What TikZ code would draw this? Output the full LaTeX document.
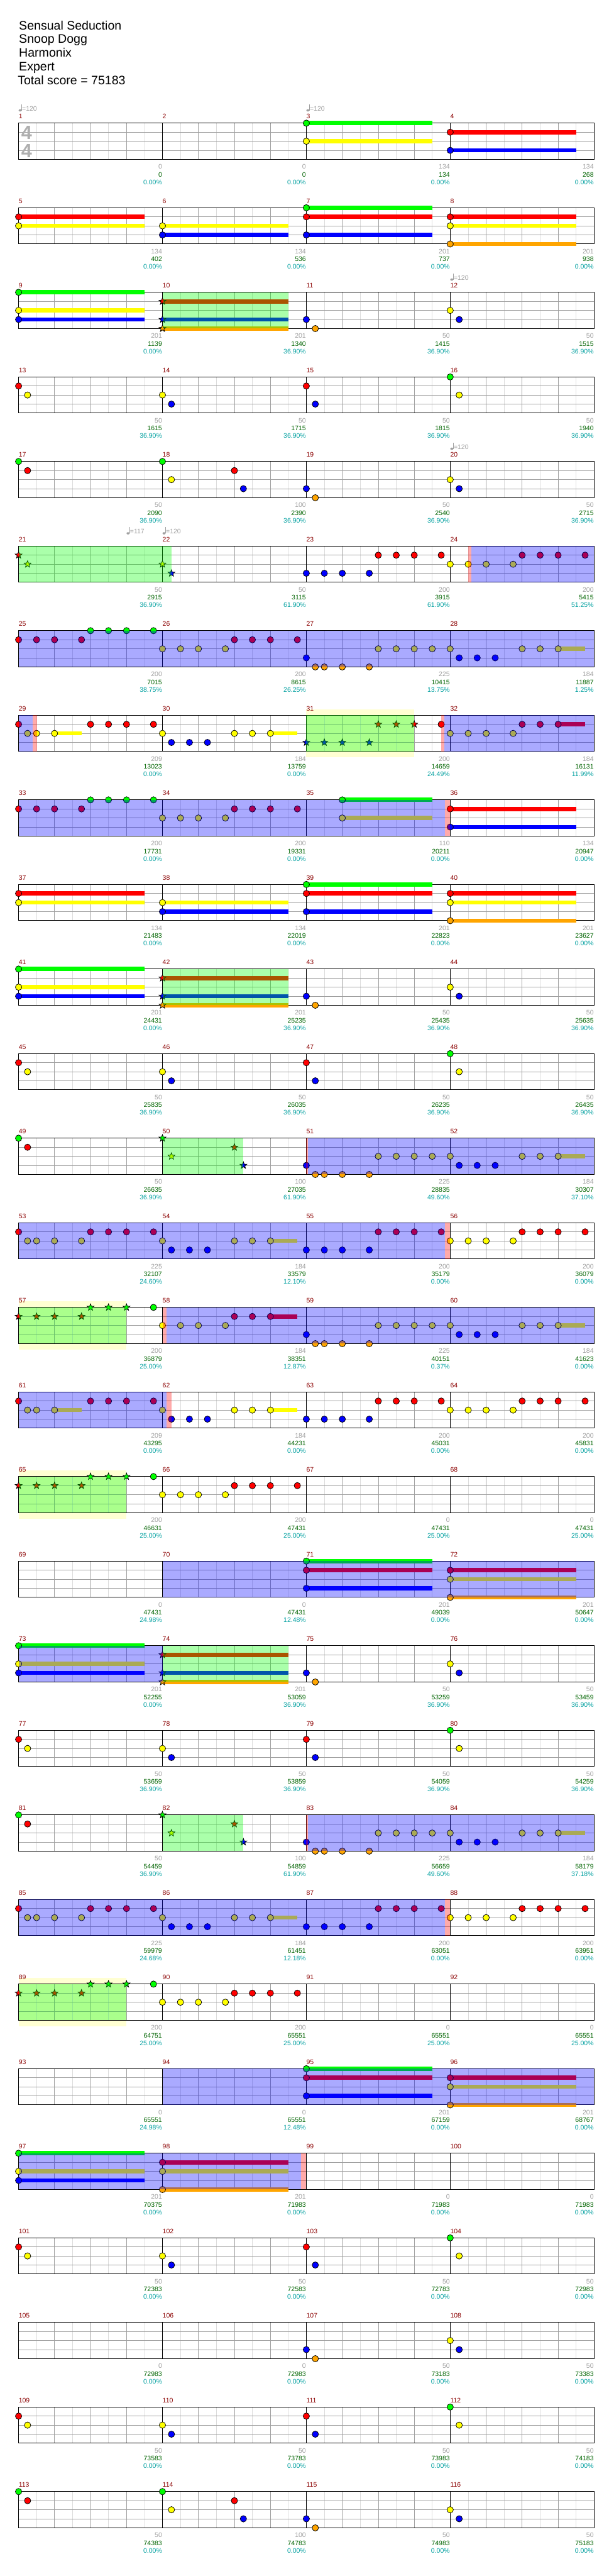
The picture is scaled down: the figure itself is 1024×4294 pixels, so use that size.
\documentclass[tikz,border=0pt]{standalone}
\usepackage{fontspec}
\setmainfont{Liberation Sans}
\usetikzlibrary{calc}

\definecolor{gem0}{RGB}{0,255,0}
\definecolor{gem1}{RGB}{255,0,0}
\definecolor{gem2}{RGB}{255,255,0}
\definecolor{gem3}{RGB}{0,0,255}
\definecolor{gem4}{RGB}{255,165,0}
\definecolor{barred}{RGB}{139,0,0}
\definecolor{ptsgray}{RGB}{160,160,160}
\definecolor{ptsgreen}{RGB}{0,100,0}
\definecolor{pctcyan}{RGB}{0,160,160}
\definecolor{gridlight}{RGB}{220,220,220}
\definecolor{gridgray}{RGB}{160,160,160}
\definecolor{unisonyellow}{RGB}{255,255,210}
\definecolor{tsgray}{RGB}{175,175,175}

\newcommand{\smallfont}{\fontsize{11}{13}\selectfont}

\begin{document}
\begin{tikzpicture}[x=1pt, y=1pt,
  gemline/.style={draw=black, line width=0.8pt},
  gridl/.style={draw=gridlight, line width=0.8pt},
  gridg/.style={draw=gridgray, line width=0.8pt},
  barline/.style={draw=black, line width=1pt},
  songtext/.style={anchor=base west, inner sep=0pt, font=\fontsize{20.5}{23}\selectfont},
  mnum/.style={anchor=base west, inner sep=0pt, text=barred, font=\smallfont},
  ptsg/.style={anchor=base east, inner sep=0pt, text=ptsgray, font=\smallfont},
  ptst/.style={anchor=base east, inner sep=0pt, text=ptsgreen, font=\smallfont},
  pctc/.style={anchor=base east, inner sep=0pt, text=pctcyan, font=\smallfont},
  tempotext/.style={anchor=base west, inner sep=0pt, text=ptsgray, font=\smallfont},
  timesig/.style={anchor=base, inner sep=0pt, text=tsgray, font=\fontsize{32}{32}\selectfont\bfseries},
  spgreen/.style={fill=gem0, fill opacity=0.333},
  odblue/.style={fill=gem3, fill opacity=0.333},
  actpink/.style={fill=gem1, fill opacity=0.333}]

%---------------------------------------
% Layout functions
%---------------------------------------
\pgfmathdeclarefunction{MX}{2}{\pgfmathparse{31+240*mod(#1-1,4)+60*#2}}            % x of measure, beat
\pgfmathdeclarefunction{MY}{2}{\pgfmathparse{-(205.3+141*floor((#1-1)/4)+15.1*#2)}} % y of measure, lane

% notes
\newcommand{\gem}[3]{\draw[gemline, fill=gem#3] ({MX(#1,#2)},{MY(#1,#3)}) circle (5.3);}
\newcommand{\sus}[4]{\fill[gem#3] ({MX(#1,#2)},{MY(#1,#3)+3.5}) rectangle ({MX(#1,#2+#4)},{MY(#1,#3)-3.5});
  \gem{#1}{#2}{#3}}
\newcommand{\stargem}[3]{\draw[gemline, fill=gem#3, shift={({MX(#1,#2)},{MY(#1,#3)})}]
  (90:6) -- (126:2.5) -- (162:6) -- (198:2.5) -- (234:6) -- (270:2.5) -- (306:6) -- (342:2.5) -- (18:6) -- (54:2.5) -- cycle;}
\newcommand{\starsus}[4]{\fill[gem#3] ({MX(#1,#2)},{MY(#1,#3)+3.5}) rectangle ({MX(#1,#2+#4)},{MY(#1,#3)-3.5});
  \stargem{#1}{#2}{#3}}
% zones
\newcommand{\spzone}[3]{\fill[spgreen] ({MX(#1,#2)},{MY(#1,0)}) rectangle ({MX(#1,#3)},{MY(#1,4)});}
\newcommand{\odzone}[3]{\fill[odblue] ({MX(#1,#2)},{MY(#1,0)}) rectangle ({MX(#1,#3)},{MY(#1,4)});}
\newcommand{\actbar}[3]{\fill[actpink] ({MX(#1,#2)},{MY(#1,0)}) rectangle ({MX(#1,#3)},{MY(#1,4)});}
\newcommand{\unizone}[3]{\fill[unisonyellow] ({MX(#1,#2)},{MY(#1,0)+10}) rectangle ({MX(#1,#3)},{MY(#1,4)-10});}
% tempo mark
\newcommand{\tempo}[3]{%
  \fill[ptsgray] ({MX(#1,#2)+2.6},{MY(#1,0)+21.3}) ellipse (2.6 and 1.9);
  \draw[ptsgray, line width=0.8pt] ({MX(#1,#2)+4.9},{MY(#1,0)+21.3}) -- ++(0,10.5);
  \node[tempotext] (bpm-#1) at ({MX(#1,#2)+5.7},{MY(#1,0)+20.3}) {=#3};}

\useasboundingbox (0,0) rectangle (1024,-4294);
\fill[white] (0,0) rectangle (1024,-4294);

%====================================================
% Header
%====================================================
\node[songtext] (song)   at (31.5,-49.3)  {Sensual Seduction};
\node[songtext] (artist) at (31.5,-72.3)  {Snoop Dogg};
\node[songtext] (chart)  at (31.5,-95.3)  {Harmonix};
\node[songtext] (diff)   at (31.5,-118.3) {Expert};
\node[songtext] (total)  at (29.5,-141.3) {Total score = 75183};

% unison boxes (behind the staff)
\unizone{31}{0}{3}
\unizone{57}{0}{3}
\unizone{65}{0}{3}
\unizone{89}{0}{3}

%====================================================
% Staves
%====================================================
\foreach \r in {0,...,28}{
  \pgfmathsetmacro\top{-(205.3+141*\r)}
  \pgfmathsetmacro\bot{\top-60.4}
  \foreach \i in {1,3,...,31} \draw[gridl] ({31+30*\i},\top) -- ({31+30*\i},\bot);
  \foreach \i in {1,2,3,5,6,7,9,10,11,13,14,15} \draw[gridg] ({31+60*\i},\top) -- ({31+60*\i},\bot);
  \foreach \k in {1,2,3} \draw[gridg] (31,{\top-15.1*\k}) -- (991,{\top-15.1*\k});
  \foreach \i in {1,2,3} \draw[barline] ({31+240*\i},\top) -- ({31+240*\i},\bot);
  \draw[barline] (31,\top) rectangle (991,\bot);
}

% time signature
\node[timesig] (ts-up) at (44.5,-232.3) {4};
\node[timesig] (ts-dn) at (44.5,-262.7) {4};

% measure numbers
\foreach \m in {1,...,116}
  \node[mnum] (num-\m) at ({MX(\m,0)},{MY(\m,0)+7.6}) {\m};

% tempo marks
\tempo{1}{0}{120}
\tempo{3}{0}{120}
\tempo{12}{0}{120}
\tempo{20}{0}{120}
\tempo{21}{3}{117}
\tempo{22}{0}{120}

%====================================================
% Notes
%====================================================
% held chords
\foreach \mm/\bb/\ll/\len in {3/0/0/3.5, 3/0/2/3.5, 4/0/1/3.5, 4/0/3/3.5, 5/0/1/3.5, 5/0/2/3.5,
    6/0/2/3.5, 6/0/3/3.5, 7/0/0/3.5, 7/0/1/3.5, 7/0/3/3.5, 8/0/1/3.5, 8/0/2/3.5, 8/0/4/3.5,
    9/0/0/3.5, 9/0/2/3.5, 9/0/3/3.5,
    28/3/2/0.75, 29/1/2/0.75, 30/3/2/0.75, 32/3/1/0.75,
    35/1/0/2.5, 35/1/2/2.5, 36/0/1/3.5, 36/0/3/3.5, 37/0/1/3.5, 37/0/2/3.5, 38/0/2/3.5, 38/0/3/3.5,
    39/0/0/3.5, 39/0/1/3.5, 39/0/3/3.5, 40/0/1/3.5, 40/0/2/3.5, 40/0/4/3.5,
    41/0/0/3.5, 41/0/2/3.5, 41/0/3/3.5, 52/3/2/0.75, 54/3/2/0.75,
    58/3/1/0.75, 60/3/2/0.75, 61/1/2/0.75, 62/3/2/0.75,
    71/0/0/3.5, 71/0/1/3.5, 71/0/3/3.5, 72/0/1/3.5, 72/0/2/3.5, 72/0/4/3.5,
    73/0/0/3.5, 73/0/2/3.5, 73/0/3/3.5, 84/3/2/0.75, 86/3/2/0.75,
    95/0/0/3.5, 95/0/1/3.5, 95/0/3/3.5, 96/0/1/3.5, 96/0/2/3.5, 96/0/4/3.5,
    97/0/0/3.5, 97/0/2/3.5, 97/0/3/3.5, 98/0/1/3.5, 98/0/2/3.5, 98/0/4/3.5}
  {\sus{\mm}{\bb}{\ll}{\len}}

% star chords
\foreach \mm/\bb/\ll/\len in {10/0/1/3.5, 10/0/3/3.5, 10/0/4/3.5, 42/0/1/3.5, 42/0/3/3.5, 42/0/4/3.5,
    74/0/1/3.5, 74/0/3/3.5, 74/0/4/3.5}
  {\starsus{\mm}{\bb}{\ll}{\len}}

% star notes
\foreach \mm/\bb/\ll in {21/0/1, 21/0.25/2, 22/0/2, 22/0.25/3,
    31/0/3, 31/0.5/3, 31/1/3, 31/1.75/3, 31/2/1, 31/2.5/1, 31/3/1,
    50/0/0, 50/0.25/2, 50/2/1, 50/2.25/3,
    57/0/1, 57/0.5/1, 57/1/1, 57/1.75/1, 57/2/0, 57/2.5/0, 57/3/0,
    65/0/1, 65/0.5/1, 65/1/1, 65/1.75/1, 65/2/0, 65/2.5/0, 65/3/0,
    82/0/0, 82/0.25/2, 82/2/1, 82/2.25/3,
    89/0/1, 89/0.5/1, 89/1/1, 89/1.75/1, 89/2/0, 89/2.5/0, 89/3/0}
  {\stargem{\mm}{\bb}{\ll}}

% single notes
\foreach \mm/\bb/\ll in {11/0/3, 11/0.25/4, 12/0/2, 12/0.25/3, 13/0/1, 13/0.25/2, 14/0/2, 14/0.25/3,
    15/0/1, 15/0.25/3, 16/0/0, 16/0.25/2, 17/0/0, 17/0.25/1, 18/0/0, 18/0.25/2, 18/2/1, 18/2.25/3,
    19/0/3, 19/0.25/4, 20/0/2, 20/0.25/3,
    23/0/3, 23/0.5/3, 23/1/3, 23/1.75/3, 23/2/1, 23/2.5/1, 23/3/1, 23/3.75/1,
    24/0/2, 24/0.5/2, 24/1/2, 24/1.75/2, 24/2/1, 24/2.5/1, 24/3/1, 24/3.75/1,
    25/0/1, 25/0.5/1, 25/1/1, 25/1.75/1, 25/2/0, 25/2.5/0, 25/3/0, 25/3.75/0,
    26/0/2, 26/0.5/2, 26/1/2, 26/1.75/2, 26/2/1, 26/2.5/1, 26/3/1, 26/3.75/1,
    27/0/3, 27/0.25/4, 27/0.5/4, 27/1/4, 27/1.75/4, 27/2/2, 27/2.5/2, 27/3/2, 27/3.5/2,
    28/0/2, 28/0.25/3, 28/0.75/3, 28/1.25/3, 28/2/2, 28/2.5/2,
    29/0/1, 29/0.25/2, 29/0.5/2, 29/2/1, 29/2.5/1, 29/3/1, 29/3.75/1,
    30/0/2, 30/0.25/3, 30/0.75/3, 30/1.25/3, 30/2/2, 30/2.5/2, 31/3.75/1,
    32/0/2, 32/0.5/2, 32/1/2, 32/1.75/2, 32/2/1, 32/2.5/1,
    33/0/1, 33/0.5/1, 33/1/1, 33/1.75/1, 33/2/0, 33/2.5/0, 33/3/0, 33/3.75/0,
    34/0/2, 34/0.5/2, 34/1/2, 34/1.75/2, 34/2/1, 34/2.5/1, 34/3/1, 34/3.75/1,
    43/0/3, 43/0.25/4, 44/0/2, 44/0.25/3, 45/0/1, 45/0.25/2, 46/0/2, 46/0.25/3,
    47/0/1, 47/0.25/3, 48/0/0, 48/0.25/2, 49/0/0, 49/0.25/1,
    51/0/3, 51/0.25/4, 51/0.5/4, 51/1/4, 51/1.75/4, 51/2/2, 51/2.5/2, 51/3/2, 51/3.5/2,
    52/0/2, 52/0.25/3, 52/0.75/3, 52/1.25/3, 52/2/2, 52/2.5/2,
    53/0/1, 53/0.25/2, 53/0.5/2, 53/1/2, 53/1.75/2, 53/2/1, 53/2.5/1, 53/3/1, 53/3.75/1,
    54/0/2, 54/0.25/3, 54/0.75/3, 54/1.25/3, 54/2/2, 54/2.5/2,
    55/0/3, 55/0.5/3, 55/1/3, 55/1.75/3, 55/2/1, 55/2.5/1, 55/3/1, 55/3.75/1,
    56/0/2, 56/0.5/2, 56/1/2, 56/1.75/2, 56/2/1, 56/2.5/1, 56/3/1, 56/3.75/1,
    57/3.75/0, 58/0/2, 58/0.5/2, 58/1/2, 58/1.75/2, 58/2/1, 58/2.5/1,
    59/0/3, 59/0.25/4, 59/0.5/4, 59/1/4, 59/1.75/4, 59/2/2, 59/2.5/2, 59/3/2, 59/3.5/2,
    60/0/2, 60/0.25/3, 60/0.75/3, 60/1.25/3, 60/2/2, 60/2.5/2,
    61/0/1, 61/0.25/2, 61/0.5/2, 61/2/1, 61/2.5/1, 61/3/1, 61/3.75/1,
    62/0/2, 62/0.25/3, 62/0.75/3, 62/1.25/3, 62/2/2, 62/2.5/2,
    63/0/3, 63/0.5/3, 63/1/3, 63/1.75/3, 63/2/1, 63/2.5/1, 63/3/1, 63/3.75/1,
    64/0/2, 64/0.5/2, 64/1/2, 64/1.75/2, 64/2/1, 64/2.5/1, 64/3/1, 64/3.75/1,
    65/3.75/0, 66/0/2, 66/0.5/2, 66/1/2, 66/1.75/2, 66/2/1, 66/2.5/1, 66/3/1, 66/3.75/1,
    75/0/3, 75/0.25/4, 76/0/2, 76/0.25/3, 77/0/1, 77/0.25/2, 78/0/2, 78/0.25/3,
    79/0/1, 79/0.25/3, 80/0/0, 80/0.25/2, 81/0/0, 81/0.25/1,
    83/0/3, 83/0.25/4, 83/0.5/4, 83/1/4, 83/1.75/4, 83/2/2, 83/2.5/2, 83/3/2, 83/3.5/2,
    84/0/2, 84/0.25/3, 84/0.75/3, 84/1.25/3, 84/2/2, 84/2.5/2,
    85/0/1, 85/0.25/2, 85/0.5/2, 85/1/2, 85/1.75/2, 85/2/1, 85/2.5/1, 85/3/1, 85/3.75/1,
    86/0/2, 86/0.25/3, 86/0.75/3, 86/1.25/3, 86/2/2, 86/2.5/2,
    87/0/3, 87/0.5/3, 87/1/3, 87/1.75/3, 87/2/1, 87/2.5/1, 87/3/1, 87/3.75/1,
    88/0/2, 88/0.5/2, 88/1/2, 88/1.75/2, 88/2/1, 88/2.5/1, 88/3/1, 88/3.75/1,
    89/3.75/0, 90/0/2, 90/0.5/2, 90/1/2, 90/1.75/2, 90/2/1, 90/2.5/1, 90/3/1, 90/3.75/1,
    101/0/1, 101/0.25/2, 102/0/2, 102/0.25/3, 103/0/1, 103/0.25/3, 104/0/0, 104/0.25/2,
    107/0/3, 107/0.25/4, 108/0/2, 108/0.25/3,
    109/0/1, 109/0.25/2, 110/0/2, 110/0.25/3, 111/0/1, 111/0.25/3, 112/0/0, 112/0.25/2,
    113/0/0, 113/0.25/1, 114/0/0, 114/0.25/2, 114/2/1, 114/2.25/3,
    115/0/3, 115/0.25/4, 116/0/2, 116/0.25/3}
  {\gem{\mm}{\bb}{\ll}}

%====================================================
% Star power and overdrive zones
%====================================================
\spzone{10}{0}{3.5}
\spzone{21}{0}{4.25}
\spzone{31}{0}{3}
\spzone{42}{0}{3.5}
\spzone{50}{0}{2.25}
\spzone{57}{0}{3}
\spzone{65}{0}{3}
\spzone{74}{0}{3.5}
\spzone{82}{0}{2.25}
\spzone{89}{0}{3}

\actbar{24}{0.5}{0.58}  \odzone{24}{0.58}{4}
\odzone{25}{0}{16}
\odzone{29}{0}{0.4}     \actbar{29}{0.4}{0.51}
\actbar{31}{3.75}{3.83} \odzone{31}{3.83}{8}
\odzone{33}{0}{11.85}   \actbar{35}{3.85}{4}
\actbar{51}{0}{0.05}    \odzone{51}{0.05}{8}
\odzone{53}{0}{11.86}   \actbar{55}{3.86}{4}
\actbar{58}{0}{0.12}    \odzone{58}{0.12}{12}
\odzone{61}{0}{4.12}    \actbar{61}{4.12}{4.25}
\odzone{70}{0}{12}
\odzone{73}{0}{4}
\actbar{83}{0}{0.05}    \odzone{83}{0.05}{8}
\odzone{85}{0}{11.86}   \actbar{87}{3.86}{4}
\odzone{94}{0}{12}
\odzone{97}{0}{7.85}    \actbar{98}{3.85}{4}

%====================================================
% Scores under each measure
%====================================================
\foreach \mnr/\gsc/\tsc/\psc in {1/0/0/0.00, 2/0/0/0.00, 3/134/134/0.00, 4/134/268/0.00,
    5/134/402/0.00, 6/134/536/0.00, 7/201/737/0.00, 8/201/938/0.00,
    9/201/1139/0.00, 10/201/1340/36.90, 11/50/1415/36.90, 12/50/1515/36.90,
    13/50/1615/36.90, 14/50/1715/36.90, 15/50/1815/36.90, 16/50/1940/36.90,
    17/50/2090/36.90, 18/100/2390/36.90, 19/50/2540/36.90, 20/50/2715/36.90,
    21/50/2915/36.90, 22/50/3115/61.90, 23/200/3915/61.90, 24/200/5415/51.25,
    25/200/7015/38.75, 26/200/8615/26.25, 27/225/10415/13.75, 28/184/11887/1.25,
    29/209/13023/0.00, 30/184/13759/0.00, 31/200/14659/24.49, 32/184/16131/11.99,
    33/200/17731/0.00, 34/200/19331/0.00, 35/110/20211/0.00, 36/134/20947/0.00,
    37/134/21483/0.00, 38/134/22019/0.00, 39/201/22823/0.00, 40/201/23627/0.00,
    41/201/24431/0.00, 42/201/25235/36.90, 43/50/25435/36.90, 44/50/25635/36.90,
    45/50/25835/36.90, 46/50/26035/36.90, 47/50/26235/36.90, 48/50/26435/36.90,
    49/50/26635/36.90, 50/100/27035/61.90, 51/225/28835/49.60, 52/184/30307/37.10,
    53/225/32107/24.60, 54/184/33579/12.10, 55/200/35179/0.00, 56/200/36079/0.00,
    57/200/36879/25.00, 58/184/38351/12.87, 59/225/40151/0.37, 60/184/41623/0.00,
    61/209/43295/0.00, 62/184/44231/0.00, 63/200/45031/0.00, 64/200/45831/0.00,
    65/200/46631/25.00, 66/200/47431/25.00, 67/0/47431/25.00, 68/0/47431/25.00,
    69/0/47431/24.98, 70/0/47431/12.48, 71/201/49039/0.00, 72/201/50647/0.00,
    73/201/52255/0.00, 74/201/53059/36.90, 75/50/53259/36.90, 76/50/53459/36.90,
    77/50/53659/36.90, 78/50/53859/36.90, 79/50/54059/36.90, 80/50/54259/36.90,
    81/50/54459/36.90, 82/100/54859/61.90, 83/225/56659/49.60, 84/184/58179/37.18,
    85/225/59979/24.68, 86/184/61451/12.18, 87/200/63051/0.00, 88/200/63951/0.00,
    89/200/64751/25.00, 90/200/65551/25.00, 91/0/65551/25.00, 92/0/65551/25.00,
    93/0/65551/24.98, 94/0/65551/12.48, 95/201/67159/0.00, 96/201/68767/0.00,
    97/201/70375/0.00, 98/201/71983/0.00, 99/0/71983/0.00, 100/0/71983/0.00,
    101/50/72383/0.00, 102/50/72583/0.00, 103/50/72783/0.00, 104/50/72983/0.00,
    105/0/72983/0.00, 106/0/72983/0.00, 107/50/73183/0.00, 108/50/73383/0.00,
    109/50/73583/0.00, 110/50/73783/0.00, 111/50/73983/0.00, 112/50/74183/0.00,
    113/50/74383/0.00, 114/100/74783/0.00, 115/50/74983/0.00, 116/50/75183/0.00}{
  \node[ptsg] (pts-\mnr) at ({MX(\mnr,4)-0.5},{MY(\mnr,4)-16}) {\gsc};
  \node[ptst] (sum-\mnr) at ({MX(\mnr,4)-0.5},{MY(\mnr,4)-29.3}) {\tsc};
  \node[pctc] (pct-\mnr) at ({MX(\mnr,4)-0.5},{MY(\mnr,4)-41.5}) {\psc\%};
}

\end{tikzpicture}
\end{document}
